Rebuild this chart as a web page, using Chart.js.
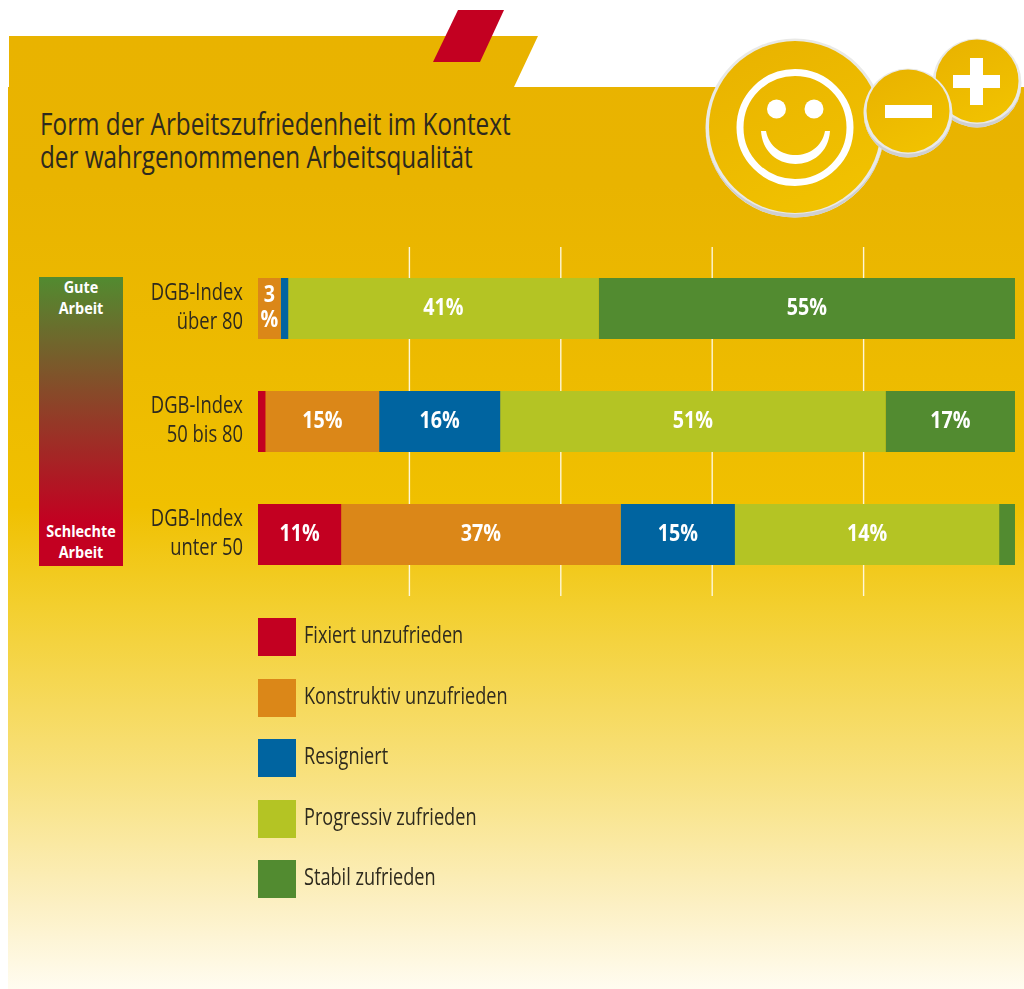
<!DOCTYPE html>
<html lang="de">
<head>
<meta charset="utf-8">
<title>Arbeitszufriedenheit</title>
<script src="https://cdn.jsdelivr.net/npm/chart.js@4/dist/chart.umd.min.js"></script>
<style>
html, body { margin: 0; padding: 0; background: #fff; }
#page { position: relative; width: 1024px; height: 989px; overflow: hidden; font-family: "Open Sans", sans-serif; }
#panel { position: absolute; left: 8px; top: 36px; width: 1016px; height: 953px;
  clip-path: polygon(1px 0, 530px 0, 506px 51px, 1016px 51px, 1016px 953px, 0 953px, 0 51px, 1px 51px);
  background: linear-gradient(180deg, #e9b300 0, #e9b400 150px, #f0c000 470px, #f3cf2e 570px, #f8e17e 740px, #fcf0c4 870px, #fffcf0 953px); }
#flag { position: absolute; left: 433px; top: 10px; width: 71px; height: 52px; background: #c30021;
  clip-path: polygon(25px 0, 71px 0, 47px 52px, 0 52px); }
#title { position: absolute; left: 40px; top: 107px; color: #2e2a1e; font-size: 31px; line-height: 33px; white-space: nowrap;
  transform: scaleX(.783); transform-origin: 0 0; }
#scale { position: absolute; left: 39px; top: 277px; width: 84px; height: 289px;
  background: linear-gradient(180deg, #528b30 0, #c30021 85%); color: #fff; font-weight: 700; font-size: 16px; line-height: 21px; text-align: center; }
#scale div { position: absolute; left: -8px; right: -8px; transform: scaleX(.9); }
#legend { position: absolute; left: 258px; top: 618px; }
.row { position: relative; height: 38px; margin-bottom: 22.5px; }
.row i { position: absolute; left: 0; top: 0; width: 38px; height: 38px; }
.row span { position: absolute; left: 46px; top: 1px; color: #2e2a1e; font-size: 23px; line-height: 30px; white-space: nowrap; transform: scaleX(.788); transform-origin: 0 0; }
#cv { position: absolute; left: 0; top: 0; }
svg { position: absolute; left: 0; top: 0; }
</style>
</head>
<body>
<div id="page">
  <div id="panel"></div>
  <div id="flag"></div>
  <div id="title">Form der Arbeitszufriedenheit im Kontext<br>der wahrgenommenen Arbeitsqualität</div>
  <svg width="1024" height="240">
    <defs><linearGradient id="g" x1="0.2" y1="0" x2="0.7" y2="1"><stop offset="0" stop-color="#e9b300"/><stop offset="1" stop-color="#f1c200"/></linearGradient></defs>
    <circle cx="795" cy="128" r="89.5" fill="#e9e9e6"/>
    <path d="M705.5 128a89.5 89.5 0 0 0 179 0a89.5 86 0 0 1 -179 0z" fill="#cfcfcf"/>
    <circle cx="795" cy="127" r="86" fill="url(#g)"/>
    <circle cx="795" cy="127.5" r="55" fill="none" stroke="#fff" stroke-width="7"/>
    <circle cx="776.5" cy="109" r="9.5" fill="#fff"/>
    <circle cx="814" cy="109" r="9.5" fill="#fff"/>
    <path d="M761 131c3 44 66 44 69 0l-5 0c-6 32 -53 32 -59 0z" fill="#fff"/>
    <circle cx="977" cy="83" r="44.5" fill="#e9e9e6"/>
    <path d="M932.5 83a44.5 44.5 0 0 0 89 0a44.5 41 0 0 1 -89 0z" fill="#cfcfcf"/>
    <circle cx="977" cy="81" r="41.5" fill="url(#g)"/>
    <rect x="953" y="75" width="47" height="13" fill="#fff"/>
    <rect x="970" y="58" width="13" height="47" fill="#fff"/>
    <circle cx="908" cy="113" r="44.5" fill="#e9e9e6"/>
    <path d="M863.5 113a44.5 44.5 0 0 0 89 0a44.5 41 0 0 1 -89 0z" fill="#cfcfcf"/>
    <circle cx="908" cy="111" r="41.5" fill="url(#g)"/>
    <rect x="885" y="105" width="47" height="13" fill="#fff"/>
  </svg>
  <div id="scale">
    <div style="top:0">Gute<br>Arbeit</div>
    <div style="bottom:3px">Schlechte<br>Arbeit</div>
  </div>
  <canvas id="cv" width="1024" height="989"></canvas>
  <div id="legend"></div>
</div>
<script>
const categories = [['DGB-Index', 'über 80'], ['DGB-Index', '50 bis 80'], ['DGB-Index', 'unter 50']];
const seriesNames = ['Fixiert unzufrieden', 'Konstruktiv unzufrieden', 'Resigniert', 'Progressiv zufrieden', 'Stabil zufrieden'];
const seriesColors = ['#c30021', '#db8718', '#0064a0', '#b4c424', '#528b30'];
// bar lengths
const fixiert = [0, 1, 11];
const konstruktiv = [3, 15, 36.9];
const resigniert = [1, 16, 15.1];
const progressiv = [41, 50.9, 34.9];
const stabil = [55, 17.1, 2.1];
// printed labels, the picture prints 14% on the 35% long bar
const fixiertLabels = [null, null, '11%'];
const konstruktivLabels = ['3%', '15%', '37%'];
const resigniertLabels = [null, '16%', '15%'];
const progressivLabels = ['41%', '51%', '14%'];
const stabilLabels = ['55%', '17%', null];
const gridValues = [20, 40, 60, 80];

const seriesValues = [fixiert, konstruktiv, resigniert, progressiv, stabil];
const seriesLabels = [fixiertLabels, konstruktivLabels, resigniertLabels, progressivLabels, stabilLabels];

const gridLines = {
  id: 'gridLines',
  beforeDatasetsDraw(chart) {
    const c = chart.ctx, x = chart.scales.x;
    c.save();
    c.strokeStyle = 'rgba(255,250,225,.95)';
    c.lineWidth = 1.4;
    gridValues.forEach(v => {
      const px = x.getPixelForValue(v);
      c.beginPath();
      c.moveTo(px, chart.chartArea.top - 5);
      c.lineTo(px, chart.chartArea.bottom + 5);
      c.stroke();
    });
    c.restore();
  }
};

// the axis font is condensed, so the category names are squeezed by hand
const categoryLabels = {
  id: 'categoryLabels',
  afterDraw(chart) {
    const c = chart.ctx, y = chart.scales.y;
    c.save();
    c.fillStyle = '#2e2a1e';
    c.textAlign = 'right';
    c.textBaseline = 'alphabetic';
    c.font = '23px "Open Sans"';
    categories.forEach((lines, i) => {
      c.save();
      c.translate(chart.chartArea.left - 15, y.getPixelForTick(i));
      c.scale(0.8, 1);
      c.fillText(lines[0], 0, -9);
      c.fillText(lines[1], 0, 20.5);
      c.restore();
    });
    c.restore();
  }
};

const barLabels = {
  id: 'barLabels',
  afterDatasetsDraw(chart) {
    const c = chart.ctx;
    c.save();
    c.fillStyle = '#fff';
    c.textAlign = 'center';
    c.textBaseline = 'middle';
    c.font = '700 24px "Open Sans"';
    seriesLabels.forEach((labels, i) => {
      chart.getDatasetMeta(i).data.forEach((bar, j) => {
        const t = labels[j];
        if (!t) return;
        const cx = (bar.x + bar.base) / 2;
        c.save();
        c.translate(cx, bar.y);
        c.scale(0.82, 1);
        if (t === '3%') {
          c.fillText('3', 0, -13);
          c.fillText('%', 0, 12);
        } else {
          c.fillText(t, 0, 0);
        }
        c.restore();
      });
    });
    c.restore();
  }
};

new Chart(document.getElementById('cv'), {
  type: 'bar',
  data: {
    labels: categories,
    datasets: seriesNames.map((name, i) => ({
      label: name,
      data: seriesValues[i],
      backgroundColor: seriesColors[i],
      borderWidth: 0,
      barPercentage: 0.54,
      categoryPercentage: 1
    }))
  },
  options: {
    indexAxis: 'y',
    responsive: false,
    animation: false,
    layout: { padding: { left: 258, top: 252, right: 9, bottom: 398 } },
    plugins: { legend: { display: false }, tooltip: { enabled: false } },
    scales: {
      x: { stacked: true, min: 0, max: 100, display: false },
      y: { stacked: true, display: false }
    }
  },
  plugins: [gridLines, barLabels, categoryLabels]
});

const legend = document.getElementById('legend');
seriesNames.forEach((name, i) => {
  const row = document.createElement('div');
  row.className = 'row';
  row.innerHTML = '<i style="background:' + seriesColors[i] + '"></i><span>' + name + '</span>';
  legend.appendChild(row);
});
</script>
</body>
</html>
